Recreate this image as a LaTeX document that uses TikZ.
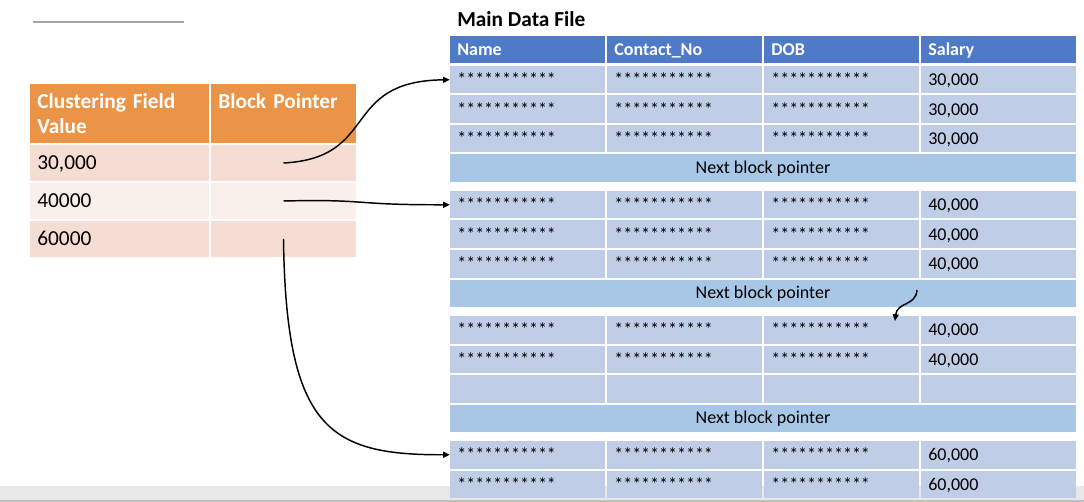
\documentclass[tikz,border=0pt]{standalone}
\usepackage{fontspec}
\setmainfont{Carlito}
\usetikzlibrary{arrows.meta}

\definecolor{hdorange}{HTML}{EA9448}
\definecolor{keyrowA}{HTML}{F6DDD3}
\definecolor{keyrowB}{HTML}{FAF0EB}
\definecolor{hdblue}{HTML}{4F7AC7}
\definecolor{rowblue}{HTML}{BFCDE6}
\definecolor{ptrblue}{HTML}{A8C7E6}

\begin{document}
\begin{tikzpicture}[x=0.75pt, y=-0.75pt,
        keyhead/.style={fill=hdorange, text=white, font=\fontsize{16}{19}\selectfont\bfseries, align=left, inner xsep=5.5pt, inner ysep=0pt, minimum height=44.25pt, text height=12pt, text depth=20pt},
        keycell/.style={font=\fontsize{16}{19}\selectfont, align=left, inner xsep=5.5pt, inner ysep=0pt, minimum height=27pt, text height=10.5pt, text depth=0pt},
        datahead/.style={fill=hdblue, text=white, font=\fontsize{13.5}{16}\selectfont\bfseries, align=left, text width=105.25pt, inner xsep=5.5pt, inner ysep=0pt, minimum height=20.25pt, text height=9.5pt, text depth=0pt},
        datacell/.style={fill=rowblue, font=\fontsize{13.5}{16}\selectfont, align=left, text width=105.25pt, inner xsep=5.5pt, inner ysep=0pt, minimum height=20.625pt, text height=9pt, text depth=0pt},
        nextptr/.style={fill=ptrblue, font=\fontsize{13.5}{16}\selectfont, inner sep=0pt, minimum width=469.5pt, minimum height=20.625pt},
        ptr/.style={-{Triangle[length=5pt, width=4.5pt]}, black, line width=1.1pt},
        ]
                \useasboundingbox[fill=white] (0,0) rectangle (1084,502);
                \fill[black!9] (0,486) rectangle (1084,502);
                \draw[black!25, line width=1pt] (0,501) -- (1084,501);
                \draw[black!35, line width=1.2pt] (33,22) -- (184,22);

                % clustering index
                \node[keyhead, text width=123.25pt] at(119.5,113.5) (h1) {Clustering Field\\Value};
                \node[keyhead, text width=97.75pt] at(283.5,113.5) (h2) {Block Pointer};
                \node[keycell, fill=keyrowA, text width=123.25pt] at(119.5,163) (k1) {30,000};
                \node[keycell, fill=keyrowA, text width=97.75pt] at(283.5,163) (bp1) {};
                \node[keycell, fill=keyrowB, text width=123.25pt] at(119.5,201) (k2) {40000};
                \node[keycell, fill=keyrowB, text width=97.75pt] at(283.5,201) (bp2) {};
                \node[keycell, fill=keyrowA, text width=123.25pt] at(119.5,239) (k3) {60000};
                \node[keycell, fill=keyrowA, text width=97.75pt] at(283.5,239) (bp3) {};

                % main data file
                \node[anchor=base west, inner sep=0pt, font=\fontsize{16}{19}\selectfont\bfseries] at(457,27) (title) {Main Data File};
                \node[datahead] at(527.5,49.5) (hname) {Name};
                \node[datahead] at(684.5,49.5) (hcont) {Contact\_No};
                \node[datahead] at(841.5,49.5) (hdob) {DOB};
                \node[datahead] at(998.5,49.5) (hsal) {Salary};

                \node[datacell] at(527.5,79.75) (r1a) {***********};
                \node[datacell] at(684.5,79.75) (r1b) {***********};
                \node[datacell] at(841.5,79.75) (r1c) {***********};
                \node[datacell] at(998.5,79.75) (r1d) {30,000};
                \node[datacell] at(527.5,109.25) (r2a) {***********};
                \node[datacell] at(684.5,109.25) (r2b) {***********};
                \node[datacell] at(841.5,109.25) (r2c) {***********};
                \node[datacell] at(998.5,109.25) (r2d) {30,000};
                \node[datacell] at(527.5,138.75) (r3a) {***********};
                \node[datacell] at(684.5,138.75) (r3b) {***********};
                \node[datacell] at(841.5,138.75) (r3c) {***********};
                \node[datacell] at(998.5,138.75) (r3d) {30,000};
                \node[nextptr] at(763,168.25) (nbp1) {Next block pointer};

                \node[datacell] at(527.5,204.75) (r4a) {***********};
                \node[datacell] at(684.5,204.75) (r4b) {***********};
                \node[datacell] at(841.5,204.75) (r4c) {***********};
                \node[datacell] at(998.5,204.75) (r4d) {40,000};
                \node[datacell] at(527.5,234.25) (r5a) {***********};
                \node[datacell] at(684.5,234.25) (r5b) {***********};
                \node[datacell] at(841.5,234.25) (r5c) {***********};
                \node[datacell] at(998.5,234.25) (r5d) {40,000};
                \node[datacell] at(527.5,263.75) (r6a) {***********};
                \node[datacell] at(684.5,263.75) (r6b) {***********};
                \node[datacell] at(841.5,263.75) (r6c) {***********};
                \node[datacell] at(998.5,263.75) (r6d) {40,000};
                \node[nextptr] at(763,293.25) (nbp2) {Next block pointer};

                \node[datacell] at(527.5,329.75) (r7a) {***********};
                \node[datacell] at(684.5,329.75) (r7b) {***********};
                \node[datacell] at(841.5,329.75) (r7c) {***********};
                \node[datacell] at(998.5,329.75) (r7d) {40,000};
                \node[datacell] at(527.5,359.25) (r8a) {***********};
                \node[datacell] at(684.5,359.25) (r8b) {***********};
                \node[datacell] at(841.5,359.25) (r8c) {***********};
                \node[datacell] at(998.5,359.25) (r8d) {40,000};
                \node[datacell] at(527.5,388.75) (r9a) {};
                \node[datacell] at(684.5,388.75) (r9b) {};
                \node[datacell] at(841.5,388.75) (r9c) {};
                \node[datacell] at(998.5,388.75) (r9d) {};
                \node[nextptr] at(763,418.25) (nbp3) {Next block pointer};

                \node[datacell] at(527.5,454.75) (r10a) {***********};
                \node[datacell] at(684.5,454.75) (r10b) {***********};
                \node[datacell] at(841.5,454.75) (r10c) {***********};
                \node[datacell] at(998.5,454.75) (r10d) {60,000};
                \node[datacell] at(527.5,484.25) (r11a) {***********};
                \node[datacell] at(684.5,484.25) (r11b) {***********};
                \node[datacell] at(841.5,484.25) (r11c) {***********};
                \node[datacell] at(998.5,484.25) (r11d) {60,000};

                % pointers
                \coordinate (hop) at (917,290);
                \coordinate (land) at (895,321);
                \draw[ptr] (bp1.center)  .. controls (380,158) and (340,81) ..  (r1a.west) ;
                \draw[ptr] (bp2.center)  .. controls (370,199) and (350,205) ..  (r4a.west) ;
                \draw[ptr] (bp3.center)  .. controls (286,430) and (330,455) ..  (r10a.west) ;
                \draw[ptr] (hop)  .. controls (916,306) and (897,302) ..  (land) ;

            \end{tikzpicture}
\end{document}
